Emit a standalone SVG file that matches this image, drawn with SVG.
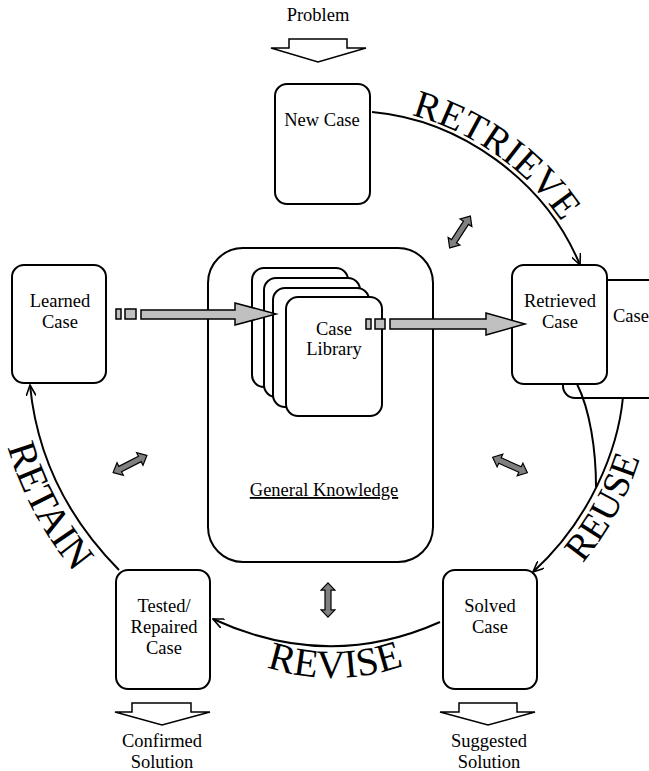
<svg xmlns="http://www.w3.org/2000/svg" xmlns:xlink="http://www.w3.org/1999/xlink" width="649" height="771" viewBox="0 0 649 771" font-family="'Liberation Serif','Times New Roman',serif">
<style>
.box{fill:#fff;stroke:#000;stroke-width:2}
.t{font-family:"Liberation Serif","Times New Roman",serif;font-size:18.5px;fill:#000;text-anchor:middle}
.big{font-family:"Liberation Serif","Times New Roman",serif;font-size:39px;fill:#000}
.con{fill:none;stroke:#000;stroke-width:2}
.hollow{fill:#fff;stroke:#000;stroke-width:1.5}
.fat{fill:#c0c0c0;stroke:#000;stroke-width:1.5}
.dbl{fill:#808080;stroke:#000;stroke-width:1.2}
</style>
<defs>
<marker id="ah" viewBox="0 0 12 10" refX="11" refY="5" markerWidth="12" markerHeight="10" markerUnits="userSpaceOnUse" orient="auto">
<path d="M0,0 L11,5 L0,10" fill="none" stroke="#000" stroke-width="1.6"/>
</marker>
<polygon id="dbla" points="-19,0 -11,-7 -11,-3 11,-3 11,-7 19,0 11,7 11,3 -11,3 -11,7"/>
<path id="pRetrieve" d="M372,108 C461,116 549,178 584,263"/>
<path id="pRevise" d="M230,652 Q335,705 440,650"/>
<path id="pReuse" d="M554,594 C617,534 645,464 652,400"/>
<path id="pRetain" d="M-4,388 Q9,507 96,596"/>
</defs>

<g id="problem">
<text class="t" x="318" y="21">Problem</text>
<polygon class="hollow" points="289,39 347,39 347,48 366,48 318,62 271,48 289,48"/>
</g>

<g id="new-case">
<rect class="box" x="275" y="84" width="95" height="120" rx="12"/>
<text class="t" x="322" y="126">New Case</text>
</g>

<g id="general-knowledge">
<rect class="box" x="208" y="248" width="225" height="314" rx="35"/>
<text class="t" x="324" y="496" text-decoration="underline">General Knowledge</text>
</g>

<g id="case-library">
<rect class="box" x="252" y="268" width="96" height="119" rx="12"/>
<rect class="box" x="264" y="278" width="96" height="119" rx="12"/>
<rect class="box" x="273" y="288" width="96" height="119" rx="12"/>
<rect class="box" x="286" y="297" width="96" height="119" rx="12"/>
<text class="t" x="334" y="335">Case</text>
<text class="t" x="334" y="355">Library</text>
</g>

<g id="learned-case">
<rect class="box" x="12" y="265" width="94" height="118" rx="12"/>
<text class="t" x="60" y="307">Learned</text>
<text class="t" x="60" y="328">Case</text>
</g>

<g id="retrieved-case">
<rect class="box" x="563" y="280" width="110" height="118" rx="12"/>
<text class="t" x="613" y="322" style="text-anchor:start">Case</text>
<rect class="box" x="512" y="265" width="95" height="119" rx="12"/>
<text class="t" x="560" y="307">Retrieved</text>
<text class="t" x="560" y="328">Case</text>
</g>

<g id="solved-case">
<rect class="box" x="443" y="570" width="94" height="119" rx="12"/>
<text class="t" x="490" y="612">Solved</text>
<text class="t" x="490" y="633">Case</text>
<polygon class="hollow" points="459,703 517,703 517,712 535,712 488,725 440,712 459,712"/>
<text class="t" x="489" y="747">Suggested</text>
<text class="t" x="489" y="768">Solution</text>
</g>

<g id="tested-case">
<rect class="box" x="116" y="570" width="94" height="119" rx="12"/>
<text class="t" x="164" y="612">Tested/</text>
<text class="t" x="164" y="633">Repaired</text>
<text class="t" x="164" y="654">Case</text>
<polygon class="hollow" points="132,703 191,703 191,712 210,712 162,725 115,712 132,712"/>
<text class="t" x="162" y="747">Confirmed</text>
<text class="t" x="162" y="768">Solution</text>
</g>

<g id="connectors">
<path class="con" d="M372,112 C460,120 545,180 580,265" marker-end="url(#ah)"/>
<path class="con" d="M623,397 C618,450 590,520 533,572" marker-end="url(#ah)"/>
<path class="con" d="M577,384 C590,410 596,450 596,487"/>
<path class="con" d="M440,622 Q328,672 213,619" marker-end="url(#ah)"/>
<path class="con" d="M119,570 Q40,490 30,385" marker-end="url(#ah)"/>

<rect class="fat" x="116" y="309" width="5" height="10"/>
<rect class="fat" x="125" y="309" width="11" height="10"/>
<polygon class="fat" points="141,310 235,310 235,303 276,314 235,325 235,319 141,319"/>

<rect class="fat" x="366" y="319" width="5" height="10"/>
<rect class="fat" x="375" y="319" width="10" height="10"/>
<polygon class="fat" points="390,319 486,319 486,313 525,324 486,335 486,329 390,329"/>

<use href="#dbla" class="dbl" transform="translate(460,232) rotate(-57)"/>
<use href="#dbla" class="dbl" transform="translate(130,464) rotate(-27)"/>
<use href="#dbla" class="dbl" transform="translate(510,465) rotate(24)"/>
<use href="#dbla" class="dbl" transform="translate(328,600) rotate(90) scale(0.9,1)"/>
</g>

<g id="labels">
<text class="big"><textPath href="#pRetrieve" startOffset="40">RETRIEVE</textPath></text>
<text class="big" text-anchor="middle" style="font-size:40px"><textPath href="#pRevise" startOffset="50%">REVISE</textPath></text>
<text class="big" text-anchor="middle" style="font-size:38px"><textPath href="#pReuse" startOffset="46%">REUSE</textPath></text>
<text class="big" text-anchor="middle" style="font-size:40px"><textPath href="#pRetain" startOffset="56%">RETAIN</textPath></text>
</g>
</svg>
